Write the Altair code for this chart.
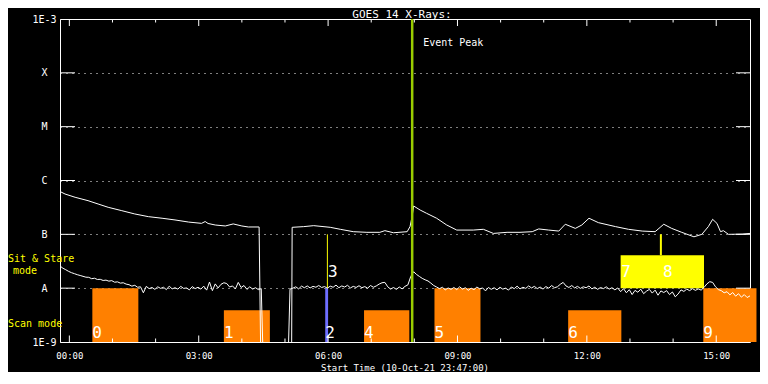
import altair as alt
import pandas as pd

# ---------------- text ----------------
TITLE = "GOES 14 X-Rays:"
X_TITLE = "Start Time (10-Oct-21 23:47:00)"
EVENT_TEXT = "Event Peak"
MONO = "DejaVu Sans Mono"

# time axis: minutes after 00:00 (plot runs 23:47 -> 15:47)
T_MIN, T_MAX = -13, 947
X_MAJOR = [0, 180, 360, 540, 720, 900]
X_MINOR = [60, 120, 240, 300, 420, 480, 600, 660, 780, 840]

# flux axis (W/m^2) and its class labels
DECADES = [1e-9, 1e-8, 1e-7, 1e-6, 1e-5, 1e-4, 1e-3]
DECADE_LABELS = ["1E-9", "A", "B", "C", "M", "X", "1E-3"]

# ---------------- series ----------------
# long channel (upper curve): minutes, flux in nW/m^2 (0.1 = data gap, off scale)
UP_T = [-13, -6, 8, 26, 40, 54, 73, 91, 110, 129, 147, 166, 184, 189, 193, 203,
        217, 228, 240, 249, 264, 267, 309, 310, 326, 340, 363, 377, 395, 414,
        432, 439, 451, 470, 474, 477, 479, 488, 497, 511, 525, 539, 562, 576,
        590, 609, 627, 644, 653, 667, 681, 690, 704, 713, 723, 736, 760, 778,
        797, 815, 827, 838, 852, 869, 880, 889, 895, 901, 906, 910, 917, 936, 947]
UP_V = [625, 561, 488, 422, 366, 318, 275, 239, 213, 199, 185, 169, 160, 173, 159, 149,
        143, 156, 143, 137, 137, 0.1, 0.1, 135, 139, 145, 135, 124, 112, 109,
        109, 117, 107, 112, 139, 219, 336, 283, 246, 199, 149, 120, 120, 124,
        104, 109, 109, 112, 126, 120, 115, 154, 129, 149, 199, 165, 139, 124,
        115, 112, 154, 129, 109, 90, 100, 139, 190, 160, 112, 117, 100, 101, 104]

# short channel (lower curve): 4-minute cadence from 23:47, flux in nW/m^2
LOW_T0, LOW_STEP = -13, 4
LOW_V = [
    25.8, 23.5, 22.0, 20.5, 19.4, 18.6, 17.8, 17.2, 16.6, 16.0,
    15.9, 15.0, 15.3, 14.5, 14.6, 13.9, 14.1, 13.5, 13.8, 12.9,
    13.1, 12.4, 12.6, 11.9, 11.6, 10.9, 11.3, 10.4, 10.6, 8.2,
    10.8, 9.8, 10.3, 9.5, 10.6, 9.9, 10.4, 9.4, 10.9, 9.7,
    10.2, 9.6, 10.8, 9.9, 10.1, 9.3, 10.7, 9.8, 10.4, 9.6,
    10.9, 9.2, 13.0, 9.0, 12.0, 10.1, 11.8, 12.6, 12.2, 10.5,
    11.0, 9.7, 12.8, 10.3, 11.2, 9.5, 10.6, 9.6, 10.2, 9.4,
    9.8, 0.1, 0.1, 0.1, 0.1, 0.1, 0.1, 0.1, 0.1, 0.1,
    9.6, 10.0, 10.6, 9.7, 10.9, 10.2, 11.0, 10.1, 10.8, 10.4,
    11.2, 10.3, 10.7, 10.0, 10.9, 10.4, 11.4, 10.2, 11.0, 10.5,
    11.3, 10.1, 10.8, 10.3, 11.1, 10.2, 10.7, 10.0, 11.2, 10.4,
    11.0, 11.9, 12.6, 12.8, 10.6, 9.6, 10.3, 9.5, 10.5, 9.7,
    10.8, 11.5, 16.5, 20.2, 18.0, 16.5, 15.2, 14.3, 13.6, 12.4,
    11.2, 10.5, 9.8, 10.4, 9.3, 10.1, 9.5, 10.3, 9.4, 10.6,
    9.6, 10.2, 9.1, 10.0, 9.4, 10.5, 9.7, 10.1, 8.9, 10.3,
    9.5, 10.2, 9.3, 10.4, 9.6, 10.0, 9.2, 10.5, 9.8, 10.9,
    9.7, 10.4, 9.9, 11.0, 10.1, 10.8, 9.8, 10.5, 9.6, 10.7,
    10.0, 11.2, 10.2, 10.6, 11.8, 12.8, 11.0, 10.3, 11.2, 10.1,
    10.8, 9.9, 10.6, 10.2, 11.0, 9.7, 10.4, 9.5, 10.3, 9.8,
    10.6, 9.6, 10.2, 9.3, 10.1, 8.6, 9.8, 8.2, 9.4, 7.6,
    9.1, 8.4, 9.6, 7.9, 8.8, 9.5, 8.1, 9.2, 7.4, 8.9,
    8.3, 9.0, 7.6, 8.5, 6.9, 7.8, 9.3, 8.7, 9.6, 9.0,
    9.8, 9.1, 9.7, 9.2, 10.3, 12.0, 13.2, 12.8, 10.6, 9.4,
    9.0, 8.2, 8.6, 7.5, 8.3, 7.1, 7.9, 6.8, 7.6, 6.7, 7.2,
]

# observing blocks (scan mode / sit & stare): minutes, flux range in nW/m^2
ORANGE, BLUE, YELLOW = "#ff8000", "#6e6eff", "#ffff00"
BLK_START = [32, 215, 356, 410, 508, 694, 767, 882]
BLK_END = [96, 279, 360, 473, 572, 768, 883, 956]
BLK_LO = [1, 1, 1, 1, 1, 1, 10, 1]
BLK_HI = [10, 3.9, 10, 3.9, 10, 3.9, 41, 10]
BLK_COLOR = [ORANGE, ORANGE, BLUE, ORANGE, ORANGE, ORANGE, YELLOW, ORANGE]

# block numbers
NUM_TEXT = ["0", "1", "2", "3", "4", "5", "6", "7", "8", "9"]
NUM_T = [32, 215, 356, 360, 410, 508, 694, 768, 826, 882]
NUM_V = [1.5, 1.5, 1.5, 20, 1.5, 1.5, 1.5, 20, 20, 1.5]

# sit & stare pointing lines
STARE_T = [359, 823]
STARE_LO = [10, 41]
STARE_HI = [100, 100]
STARE_W = [1, 2]

EVENT_T = 477

# ---------------- layout ----------------
W, H = 690, 323
NANO = 1e-9

xs = alt.Scale(domain=[T_MIN, T_MAX], nice=False, zero=False)
ys = alt.Scale(type="log", domain=[DECADES[0], DECADES[-1]], nice=False)

up = pd.DataFrame({"t": UP_T, "flux": [v * NANO for v in UP_V]})
low = pd.DataFrame({"t": [LOW_T0 + LOW_STEP * i for i in range(len(LOW_V))],
                    "flux": [v * NANO for v in LOW_V]})
blk = pd.DataFrame({"start": BLK_START, "end": BLK_END,
                    "lo": [v * NANO for v in BLK_LO], "hi": [v * NANO for v in BLK_HI],
                    "color": BLK_COLOR})
nums = pd.DataFrame({"label": NUM_TEXT, "t": NUM_T, "flux": [v * NANO for v in NUM_V]})
stare = pd.DataFrame({"t": STARE_T, "lo": [v * NANO for v in STARE_LO],
                      "hi": [v * NANO for v in STARE_HI], "w": STARE_W})
event = pd.DataFrame({"t": [EVENT_T], "text": [EVENT_TEXT]})
ytick = pd.DataFrame({"v": DECADES[1:-1]})
xmaj = pd.DataFrame({"t": X_MAJOR})
xmin = pd.DataFrame({"t": X_MINOR})

y_label_expr = f"{DECADE_LABELS}[round(log(datum.value)/LN10)+9]"
x_label_expr = "(datum.value < 600 ? '0' : '') + (datum.value/60) + ':00'"

x_axis = alt.Axis(values=X_MAJOR, labelExpr=x_label_expr, tickSize=0, domain=False,
                  grid=False, title=None, labelFont=MONO, labelFontSize=9,
                  labelColor="white", labelBaseline="middle", labelPadding=13,
                  labelAngle=0)
y_axis = alt.Axis(values=DECADES, labelExpr=y_label_expr, tickSize=0, domain=False,
                  grid=True, gridDash=[1, 5], gridColor="white", gridOpacity=1,
                  gridWidth=1, title=None, labelFont=MONO, labelFontSize=10,
                  labelColor="white", labelAlign="center", labelBaseline="middle",
                  labelPadding=16)


def X(field):
    return alt.X(field, scale=xs, axis=x_axis)


def Y(field):
    return alt.Y(field, scale=ys, axis=y_axis)


blocks = alt.Chart(blk).mark_rect(clip=False).encode(
    x=X("start:Q"), x2="end:Q", y=Y("lo:Q"), y2="hi:Q",
    color=alt.Color("color:N", scale=None),
)

stare_lines = alt.Chart(stare).mark_rule(color=YELLOW).encode(
    x=X("t:Q"), y=Y("lo:Q"), y2="hi:Q",
    strokeWidth=alt.StrokeWidth("w:Q", scale=None),
)

line_up = alt.Chart(up).mark_line(color="white", strokeWidth=1, clip=True).encode(
    x=X("t:Q"), y=Y("flux:Q"))
line_low = alt.Chart(low).mark_line(color="white", strokeWidth=1, clip=True).encode(
    x=X("t:Q"), y=Y("flux:Q"))

event_line = alt.Chart(event).mark_rule(color="#99cc00", strokeWidth=2.5).encode(
    x=X("t:Q"))
event_text = alt.Chart(event).mark_text(font=MONO, fontSize=10, color="white",
                                        align="left", baseline="middle", dx=11).encode(
    x=X("t:Q"), y=alt.value(24), text="text:N")

num_text = alt.Chart(nums).mark_text(font=MONO, fontSize=16, color="white",
                                     align="left", baseline="middle").encode(
    x=X("t:Q"), y=Y("flux:Q"), text="label:N")

tick_l = alt.Chart(ytick).mark_rule(color="white").encode(
    y=Y("v:Q"), x=alt.value(0), x2=alt.value(15))
tick_r = alt.Chart(ytick).mark_rule(color="white").encode(
    y=Y("v:Q"), x=alt.value(W - 14), x2=alt.value(W))
tick_bmaj = alt.Chart(xmaj).mark_rule(color="white").encode(
    x=X("t:Q"), y=alt.value(H), y2=alt.value(H - 6.5))
tick_tmaj = alt.Chart(xmaj).mark_rule(color="white").encode(
    x=X("t:Q"), y=alt.value(0), y2=alt.value(7))
tick_bmin = alt.Chart(xmin).mark_rule(color="white").encode(
    x=X("t:Q"), y=alt.value(H), y2=alt.value(H - 3.5))
tick_tmin = alt.Chart(xmin).mark_rule(color="white").encode(
    x=X("t:Q"), y=alt.value(0), y2=alt.value(3.5))


def note(text, px, py, size=10, color="white", align="left"):
    return alt.Chart(pd.DataFrame({"text": [text]})).mark_text(
        font=MONO, fontSize=size, color=color, align=align, baseline="middle"
    ).encode(x=alt.value(px), y=alt.value(py), text="text:N")


notes = [
    note(TITLE, 342, -4, size=11, align="center"),
    note(X_TITLE, 345, 349, size=9, align="center"),
    note("Sit & Stare", -52, 240, color=YELLOW),
    note("mode", -35, 252, color=YELLOW, align="center"),
    note("Scan mode", -52, 305, color=YELLOW),
]

chart = alt.layer(
    blocks, stare_lines, line_up, line_low, event_line, event_text, num_text,
    tick_l, tick_r, tick_bmaj, tick_tmaj, tick_bmin, tick_tmin, *notes,
).properties(
    width=W, height=H,
    autosize=alt.AutoSizeParams(type="none"),
    padding={"left": 52, "top": 11, "right": 10, "bottom": 30},
).configure(background="black").configure_view(stroke="white", strokeWidth=1)

chart.save("out.html", embed_options={"renderer": "svg", "actions": False})
